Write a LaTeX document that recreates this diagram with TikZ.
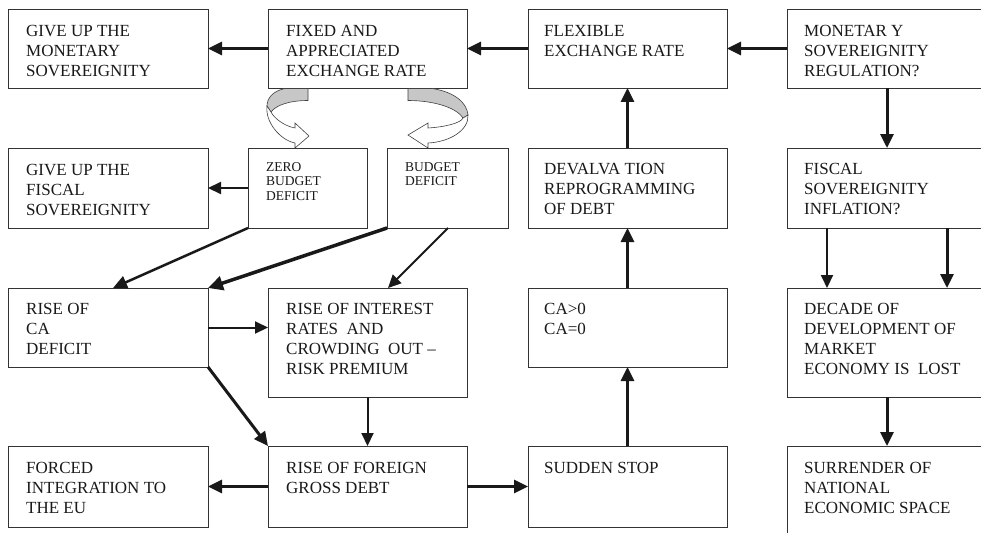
\documentclass[tikz,border=0pt]{standalone}
\usepackage{fontspec}
\setmainfont{Liberation Serif}
\usetikzlibrary{arrows.meta,calc}
\begin{document}
\begin{tikzpicture}[x=1pt,y=-1pt,
  box/.style={draw=black!80,line width=0.8pt,anchor=north west,inner sep=0pt,outer sep=0pt},
  txt/.style={anchor=north west,inner sep=0pt,align=left,font=\fontsize{17}{20}\selectfont,text=black!90},
  smalltxt/.style={anchor=north west,inner sep=0pt,align=left,font=\fontsize{13.5}{14.7}\selectfont,text=black!90},
  thickarrow/.style={line width=3pt,draw=black!90,-{Triangle[length=14pt,width=13pt]}},
  medarrow/.style={line width=2pt,draw=black!90,-{Triangle[length=13pt,width=12pt]}},
  fold/.style={draw=black!75,line width=0.6pt}]
\clip (0,0) rectangle (981,532);
\fill[white] (0,0) rectangle (981,532);
% row 1
\node[box,minimum width=200pt,minimum height=79pt] (A) at (8,9) {};
\node[box,minimum width=199pt,minimum height=79pt] (B) at (268,9) {};
\node[box,minimum width=199pt,minimum height=79pt] (C) at (528,9) {};
\node[box,minimum width=213pt,minimum height=79pt] (D) at (787,9) {};
% row 2
\node[box,minimum width=200pt,minimum height=80pt] (GF) at (8,148) {};
\node[box,minimum width=119pt,minimum height=80pt] (ZB) at (248,148) {};
\node[box,minimum width=121pt,minimum height=80pt] (BD) at (387,148) {};
\node[box,minimum width=199pt,minimum height=80pt] (DV) at (528,148) {};
\node[box,minimum width=213pt,minimum height=80pt] (FS) at (787,148) {};
% row 3
\node[box,minimum width=200pt,minimum height=79pt] (CA) at (8,288) {};
\node[box,minimum width=199pt,minimum height=109pt] (IR) at (268,288) {};
\node[box,minimum width=199pt,minimum height=79pt] (CZ) at (528,288) {};
\node[box,minimum width=213pt,minimum height=109pt] (DE) at (787,288) {};
% row 4
\node[box,minimum width=200pt,minimum height=81pt] (FE) at (8,446) {};
\node[box,minimum width=199pt,minimum height=81pt] (FD) at (268,446) {};
\node[box,minimum width=199pt,minimum height=81pt] (SS) at (528,446) {};
\node[box,minimum width=213pt,minimum height=110pt] (SU) at (787,446) {};
% texts
\node[txt] (At) at ($(A.north west)+(18,16)$) {GIVE UP THE\\MONETARY\\SOVEREIGNITY};
\node[txt] (Bt) at ($(B.north west)+(18,16)$) {FIXED AND\\APPRECIATED\\EXCHANGE RATE};
\node[txt] (Ct) at ($(C.north west)+(16,16)$) {FLEXIBLE\\EXCHANGE RATE};
\node[txt] (Dt) at ($(D.north west)+(17,16)$) {MONETAR Y\\SOVEREIGNITY\\REGULATION?};
\node[txt] (GFt) at ($(GF.north west)+(18,16)$) {GIVE UP THE\\FISCAL\\SOVEREIGNITY};
\node[smalltxt] (ZBt) at ($(ZB.north west)+(18,14)$) {ZERO\\BUDGET\\DEFICIT};
\node[smalltxt] (BDt) at ($(BD.north west)+(18,14)$) {BUDGET\\DEFICIT};
\node[txt] (DVt) at ($(DV.north west)+(16,15)$) {DEVALVA TION\\REPROGRAMMING\\OF DEBT};
\node[txt] (FSt) at ($(FS.north west)+(17,15)$) {FISCAL\\SOVEREIGNITY\\INFLATION?};
\node[txt] (CAt) at ($(CA.north west)+(18,15)$) {RISE OF\\CA\\DEFICIT};
\node[txt] (IRt) at ($(IR.north west)+(18,15)$) {RISE OF INTEREST\\RATES\ \ AND\\CROWDING\ \ OUT --\\RISK PREMIUM};
\node[txt] (CZt) at ($(CZ.north west)+(16,15)$) {CA>0\\CA=0};
\node[txt] (DEt) at ($(DE.north west)+(17,15)$) {DECADE OF\\DEVELOPMENT OF\\MARKET\\ECONOMY IS\ \ LOST};
\node[txt] (FEt) at ($(FE.north west)+(18,16)$) {FORCED\\INTEGRATION TO\\THE EU};
\node[txt] (FDt) at ($(FD.north west)+(18,16)$) {RISE OF FOREIGN\\GROSS DEBT};
\node[txt] (SSt) at ($(SS.north west)+(16,16)$) {SUDDEN STOP};
\node[txt] (SUt) at ($(SU.north west)+(17,16)$) {SURRENDER OF\\NATIONAL\\ECONOMIC SPACE};
% connectors
\draw[thickarrow] (B.west) -- (A.east);
\draw[thickarrow] (C.west) -- (B.east);
\draw[thickarrow] (D.west) -- (C.east);
\draw[thickarrow] ($(D.south west)+(100,0)$) -- ($(FS.north west)+(100,0)$);
\draw[medarrow] (ZB.west) -- (GF.east);
\draw[line width=2.5pt,draw=black!90,-{Triangle[length=14pt,width=13pt]}] (ZB.south west) -- ($(CA.north west)+(105,0)$);
\draw[line width=3.5pt,draw=black!90,-{Triangle[length=15pt,width=14pt]}] (BD.south west) -- (CA.north east);
\draw[medarrow] ($(BD.south west)+(61,0)$) -- ($(IR.north west)+(120,0)$);
\draw[medarrow] (CA.east) -- (CA.east -| IR.west);
\draw[thickarrow] (CA.south east) -- (FD.north west);
\draw[medarrow] (IR.south) -- (FD.north);
\draw[thickarrow] (FD.west) -- (FE.east);
\draw[thickarrow] (FD.east) -- (SS.west);
\draw[thickarrow] (SS.north) -- (CZ.south);
\draw[thickarrow] (CZ.north) -- (DV.south);
\draw[thickarrow] (DV.north) -- (C.south);
\draw[medarrow] ($(FS.south west)+(40,0)$) -- ($(DE.north west)+(40,0)$);
\draw[thickarrow] ($(FS.south west)+(160,0)$) -- ($(DE.north west)+(160,0)$);
\draw[thickarrow] ($(DE.south west)+(100,0)$) -- ($(SU.north west)+(100,0)$);
% curved block arrows
\filldraw[fold,fill=black!22] (285,88.5) .. controls (273,91) and (267,98) .. (267,106) -- (271,112) .. controls (276,105) and (290,100.5) .. (308,100.5) -- (308,88.5) -- cycle;
\filldraw[fold,fill=white] (267,106) .. controls (265,122) and (280,140) .. (295,143) -- (295,148) -- (309,136) -- (295,123) -- (295,128) .. controls (284,126) and (274,118) .. (271,112) -- cycle;
\filldraw[fold,fill=black!22] (408,88.5) -- (432,88.5) .. controls (455,92) and (467,103) .. (468,115) -- (463,118) .. controls (455,106) and (430,100.5) .. (408,100.5) -- cycle;
\filldraw[fold,fill=white] (468,115) .. controls (469,130) and (450,142) .. (428,143) -- (428,148) -- (408,135) -- (428,123) -- (428,128) .. controls (445,127) and (461,123) .. (463,118) -- cycle;
\end{tikzpicture}
\end{document}
